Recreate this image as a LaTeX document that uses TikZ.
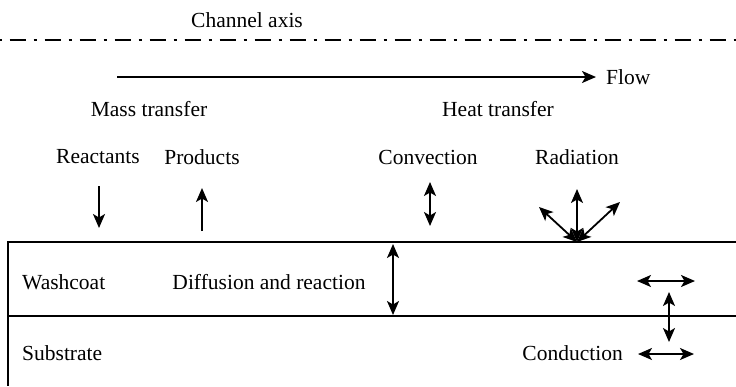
\documentclass[tikz,border=0pt]{standalone}
\usepackage{fontspec}
\setmainfont{Liberation Serif}
\usetikzlibrary{arrows.meta}

\tikzset{
  lbl/.style={font=\fontsize{21.5}{25}\selectfont, inner sep=0pt},
  flux/.style={line width=1.8pt, -{Stealth[length=14pt,width=12pt,inset=3.5pt]}},
  twoway/.style={line width=1.8pt, {Stealth[length=14pt,width=12pt,inset=3.5pt]}-{Stealth[length=14pt,width=12pt,inset=3.5pt]}},
  wall/.style={line width=1.8pt},
}

\begin{document}
\begin{tikzpicture}[x=1pt,y=-1pt]
    \useasboundingbox (0,0) rectangle (736,386);
    % channel axis
    \node[lbl] (axis) at (247,20) {Channel axis};
    \coordinate (axisL) at (0,40);
    \coordinate (axisR) at (736,40);
    \draw[line width=2.5pt, dash pattern=on 16pt off 8pt on 3pt off 8pt, dash phase=25.5pt] (axisL) -- (axisR);
    % flow direction
    \node[lbl, anchor=west] (flow) at (606,77) {Flow};
    \coordinate (flowS) at (117,77);
    \draw[flux] (flowS) -- ([xshift=-10pt]flowS -| flow.west);
    % headings
    \node[lbl] (mass) at (149,109) {Mass transfer};
    \node[lbl] (heat) at (498,109) {Heat transfer};
    \node[lbl] (reac) at (98,157) {Reactants};
    \node[lbl] (prod) at (202,157) {Products};
    \node[lbl] (conv) at (428,157) {Convection};
    \node[lbl] (rad) at (577,157) {Radiation};
    % gas side fluxes
    \coordinate (reacA) at (99,186);
    \coordinate (reacB) at (99,228);
    \draw[flux] (reacA) -- (reacB);
    \coordinate (prodA) at (202,231);
    \coordinate (prodB) at (202,188);
    \draw[flux] (prodA) -- (prodB);
    \coordinate (convA) at (430,182);
    \coordinate (convB) at (430,226);
    \draw[twoway] (convA) -- (convB);
    \coordinate (radO) at (577,242);
    \coordinate (radL) at (539,207);
    \coordinate (radU) at (577,189);
    \coordinate (radR) at (620,202);
    \draw[twoway] (radO) -- (radL);
    \draw[twoway] (radO) -- (radU);
    \draw[twoway] (radO) -- (radR);
    % wall layers
    \coordinate (topL) at (8,242);
    \coordinate (topR) at (736,242);
    \coordinate (midL) at (8,316);
    \coordinate (midR) at (736,316);
    \coordinate (botL) at (8,386);
    \draw[wall] (topR) -- (topL) -- (botL);
    \draw[wall] (midL) -- (midR);
    \node[lbl, anchor=west] (wash) at (22,282) {Washcoat};
    \node[lbl, anchor=west] (subs) at (22,353) {Substrate};
    \node[lbl] (diff) at (269,282) {Diffusion and reaction};
    \coordinate (diffA) at (393,244);
    \coordinate (diffB) at (393,315);
    \draw[twoway] (diffA) -- (diffB);
    % conduction in the wall
    \node[lbl, anchor=east] (cond) at (623,353) {Conduction};
    \coordinate (condUL) at (637,281);
    \coordinate (condUR) at (695,281);
    \draw[twoway] (condUL) -- (condUR);
    \coordinate (condT) at (669,292);
    \coordinate (condB) at (669,342);
    \draw[twoway] (condT) -- (condB);
    \coordinate (condLL) at (638,354);
    \coordinate (condLR) at (694,354);
    \draw[twoway] (condLL) -- (condLR);
\end{tikzpicture}
\end{document}
